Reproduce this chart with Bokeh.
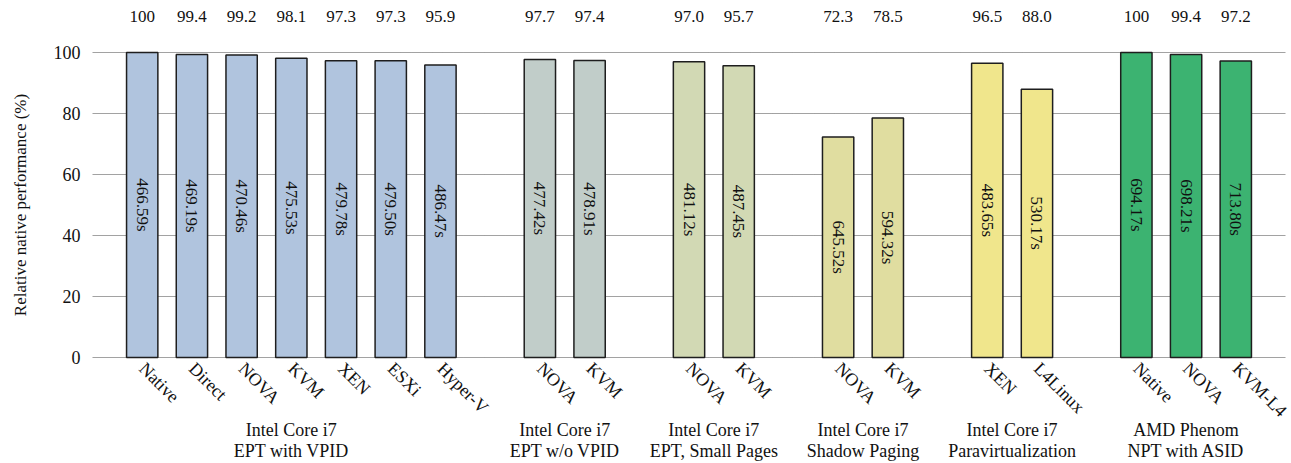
import math
from bokeh.plotting import figure
from bokeh.models import Range1d, LinearAxis, FixedTicker, ColumnDataSource, Grid
from bokeh.core.properties import value
from bokeh.embed import file_html
from bokeh.resources import INLINE

# ---- data ----
names = ["Native", "Direct", "NOVA", "KVM", "XEN", "ESXi", "Hyper-V",
         "NOVA", "KVM",
         "NOVA", "KVM",
         "NOVA", "KVM",
         "XEN", "L4Linux",
         "Native", "NOVA", "KVM-L4"]
perf = [100, 99.4, 99.2, 98.1, 97.3, 97.3, 95.9,
        97.7, 97.4,
        97.0, 95.7,
        72.3, 78.5,
        96.5, 88.0,
        100, 99.4, 97.2]
perf_labels = ["100", "99.4", "99.2", "98.1", "97.3", "97.3", "95.9",
               "97.7", "97.4",
               "97.0", "95.7",
               "72.3", "78.5",
               "96.5", "88.0",
               "100", "99.4", "97.2"]
times = ["466.59s", "469.19s", "470.46s", "475.53s", "479.78s", "479.50s", "486.47s",
         "477.42s", "478.91s",
         "481.12s", "487.45s",
         "645.52s", "594.32s",
         "483.65s", "530.17s",
         "694.17s", "698.21s", "713.80s"]
group_sizes = [7, 2, 2, 2, 2, 3]
group_labels = ["Intel Core i7\nEPT with VPID",
                "Intel Core i7\nEPT w/o VPID",
                "Intel Core i7\nEPT, Small Pages",
                "Intel Core i7\nShadow Paging",
                "Intel Core i7\nParavirtualization",
                "AMD Phenom\nNPT with ASID"]
group_colors = ["#B0C4DE", "#C1CDC9", "#D2D9B4", "#E0DDA0", "#F0E68C", "#3CB371"]
y_ticks = [0, 20, 40, 60, 80, 100]

# ---- derived positions (one empty slot between groups) ----
xs, colors, group_centers = [], [], []
i = 0
for g, n in enumerate(group_sizes):
    gx = []
    for _ in range(n):
        xs.append(i + g)
        gx.append(i + g)
        colors.append(group_colors[g])
        i += 1
    group_centers.append(sum(gx) / len(gx))

src = ColumnDataSource(dict(x=xs, top=perf, mid=[v / 2 for v in perf],
                            color=colors, t=times))

FONT = "Liberation Serif"

p = figure(width=1291, height=463, output_backend="svg", toolbar_location=None,
           x_range=Range1d(-1, 23), y_range=Range1d(-1, 101),
           min_border_left=92, min_border_right=6, min_border_top=49,
           min_border_bottom=103, x_axis_type=None, y_axis_type=None)
p.outline_line_color = None

p.vbar(x="x", top="top", bottom=0, width=0.63, fill_color="color",
       line_color="#1e1e1e", line_width=1.5, source=src)
p.text(x="x", y="mid", text="t", angle=-math.pi / 2, text_align="center",
       text_baseline="middle", text_font=value(FONT), text_font_size="17px",
       text_color="#111111", source=src)

def style(ax, size):
    ax.axis_line_color = None
    ax.major_tick_line_color = None
    ax.minor_tick_line_color = None
    ax.major_tick_out = 0
    ax.major_tick_in = 0
    ax.minor_tick_out = 0
    ax.minor_tick_in = 0
    ax.major_label_text_font = FONT
    ax.major_label_text_font_size = size
    ax.major_label_text_color = "#111111"

# y axis
yax = LinearAxis(ticker=FixedTicker(ticks=y_ticks),
                 axis_label="Relative native performance (%)")
style(yax, "18px")
yax.major_label_standoff = 12
yax.axis_label_text_font = FONT
yax.axis_label_text_font_style = "normal"
yax.axis_label_text_font_size = "17px"
yax.axis_label_text_color = "#111111"
yax.axis_label_standoff = 21
p.add_layout(yax, "left")

# top value labels
tax = LinearAxis(ticker=FixedTicker(ticks=xs),
                 major_label_overrides={x: l for x, l in zip(xs, perf_labels)})
style(tax, "17px")
tax.major_label_standoff = 28
p.add_layout(tax, "above")

# rotated bar names
xax = LinearAxis(ticker=FixedTicker(ticks=xs),
                 major_label_overrides={x: n for x, n in zip(xs, names)})
style(xax, "18px")
xax.major_label_orientation = -math.pi / 4
xax.major_label_standoff = 5
p.add_layout(xax, "below")

# group labels
gax = LinearAxis(ticker=FixedTicker(ticks=group_centers),
                 major_label_overrides={c: l for c, l in zip(group_centers, group_labels)})
style(gax, "18px")
gax.major_label_text_line_height = 1.05
gax.major_label_standoff = -11
p.add_layout(gax, "below")

p.ygrid.visible = False
grid = Grid(dimension=1, ticker=FixedTicker(ticks=y_ticks), grid_line_color="#444444",
            grid_line_dash="1 1", grid_line_width=1)
p.add_layout(grid)

open("out.html", "w").write(file_html(p, INLINE))
